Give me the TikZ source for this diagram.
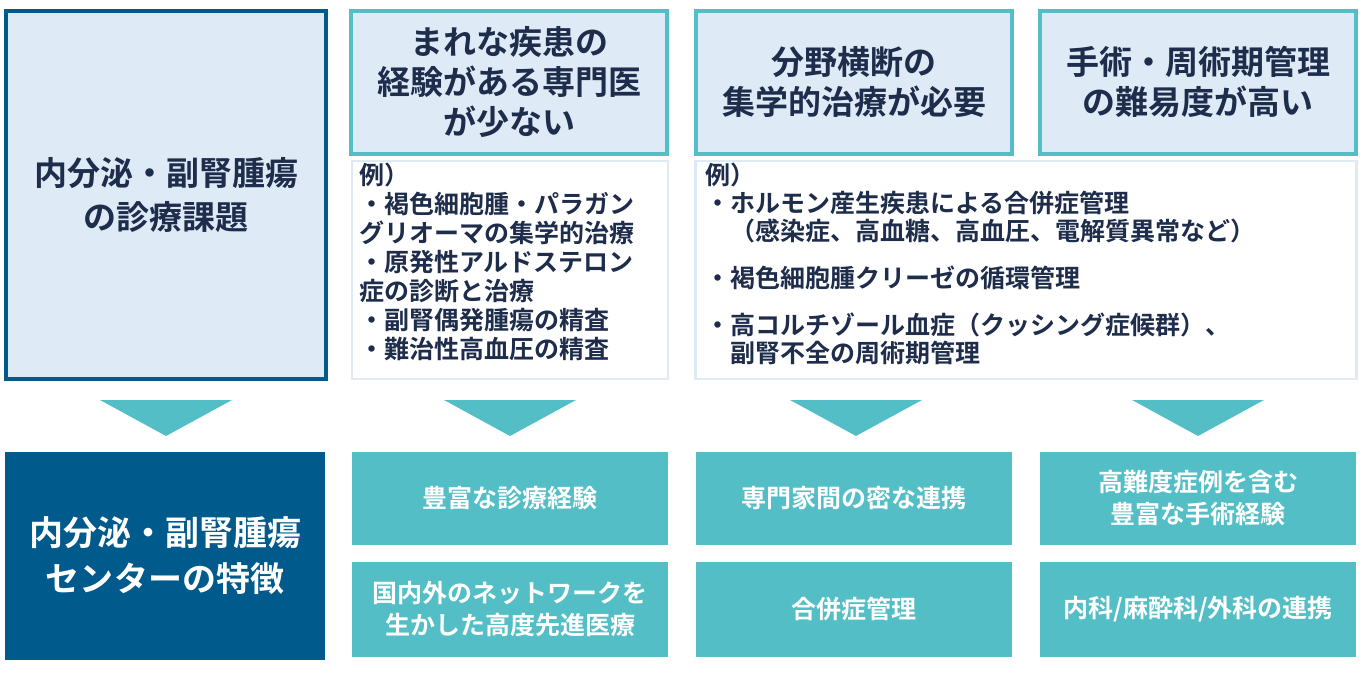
\documentclass[tikz,border=0pt]{standalone}
\usepackage{fontspec}
\setmainfont{Noto Sans CJK JP}[BoldFont={* Bold}]
\begin{document}
\begin{tikzpicture}[x=1pt,y=-1pt,
 txt/.style={text=navy,font=\bfseries},
 hdr/.style={draw=teal1,line width=4pt,fill=lightb,txt,align=center,font=\fontsize{33}{40}\bfseries\selectfont,inner sep=0pt},
 ex/.style={draw=lightb,line width=2.5pt,fill=white},
 exline/.style={txt,font=\fontsize{25}{29}\bfseries\selectfont,align=left,anchor=north west,inner sep=0pt},
 tb/.style={fill=teal1,text=white,font=\fontsize{25}{32}\bfseries\selectfont,align=center},
 tri/.style={fill=teal1}]
\definecolor{navy}{RGB}{30,45,75}
\definecolor{teal1}{RGB}{84,190,198}
\definecolor{lightb}{RGB}{222,234,245}
\definecolor{dblue}{RGB}{0,90,140}
\useasboundingbox (0,0) rectangle (1362,672);
% left
\node[draw=dblue,line width=4pt,fill=lightb,minimum width=320,minimum height=368,txt,font=\fontsize{33}{44}\bfseries\selectfont,align=center] (L) at (166,195) {内分泌・副腎腫瘍\\の診療課題};
% headers
\node[hdr,minimum width=316,minimum height=143] (H1) at (509,82) {まれな疾患の\\経験がある専門医\\が少ない};
\node[hdr,minimum width=316,minimum height=143] (H2) at (854,82) {分野横断の\\集学的治療が必要};
\node[hdr,minimum width=316,minimum height=143] (H3) at (1198,82) {手術・周術期管理\\の難易度が高い};
% example boxes
\node[ex,minimum width=316,minimum height=218] (E1) at (510,270) {};
\node[exline] (E1t) at (359,163) {例）\\・褐色細胞腫・パラガン\\グリオーマの集学的治療\\・原発性アルドステロン\\症の診断と治療\\・副腎偶発腫瘍の精査\\・難治性高血圧の精査};
\node[ex,minimum width=661,minimum height=218] (E2) at (1026,270) {};
\node[exline,font=\fontsize{25}{28}\bfseries\selectfont] (E2t) at (705,163) {例）\\・ホルモン産生疾患による合併症管理\\\hspace{1em}（感染症、高血糖、高血圧、電解質異常など）\\[19pt]・褐色細胞腫クリーゼの循環管理\\[19pt]・高コルチゾール血症（クッシング症候群）、\\\hspace{1em}副腎不全の周術期管理};
% triangles
\coordinate (T0) at (166,400);
\coordinate (T1) at (510,400);
\coordinate (T2) at (856,400);
\coordinate (T3) at (1198,400);
\foreach \t in {T0,T1,T2,T3}{
 \fill[tri] (\t) +(-66,0) -- +(66,0) -- +(0,36) -- cycle;}
% bottom
\node[fill=dblue,minimum width=320,minimum height=208,text=white,font=\fontsize{34}{46}\bfseries\selectfont,align=center] (B0) at (165,556) {内分泌・副腎腫瘍\\センターの特徴};
\node[tb,minimum width=316,minimum height=93] (B1) at (510,498) {豊富な診療経験};
\node[tb,minimum width=316,minimum height=93] (B2) at (854,498) {専門家間の密な連携};
\node[tb,minimum width=316,minimum height=93] (B3) at (1198,498) {高難度症例を含む\\豊富な手術経験};
\node[tb,minimum width=316,minimum height=95] (C1) at (510,609) {国内外のネットワークを\\生かした高度先進医療};
\node[tb,minimum width=316,minimum height=95] (C2) at (854,609) {合併症管理};
\node[tb,minimum width=316,minimum height=95] (C3) at (1198,609) {内科/麻酔科/外科の連携};
\end{tikzpicture}
\end{document}
